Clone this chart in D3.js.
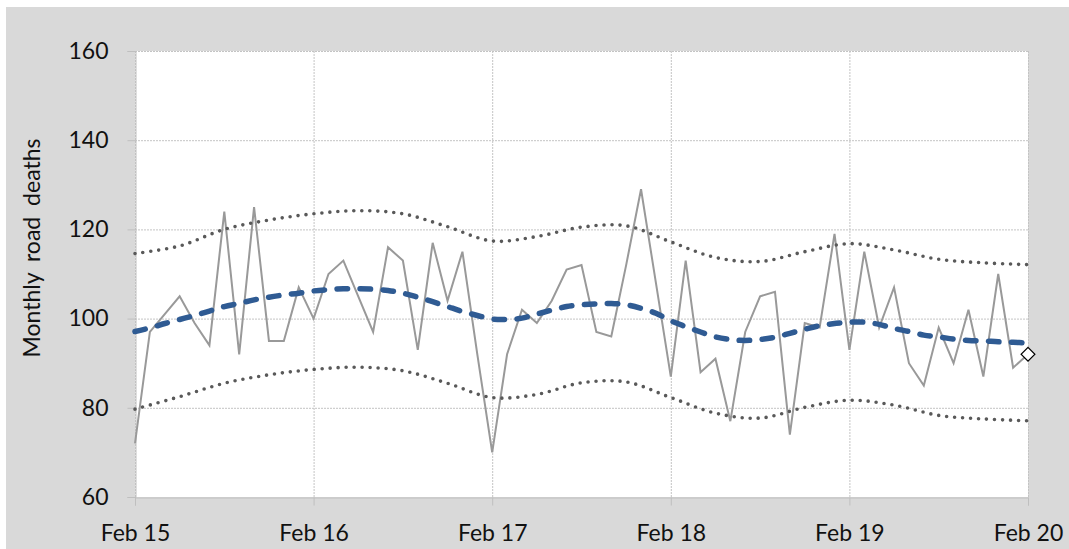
<!DOCTYPE html>
<html>
<head>
<meta charset="utf-8">
<script src="https://cdn.jsdelivr.net/npm/d3@7"></script>
<style>
  body { margin: 0; background: #fff; }
  svg { display: block; font-family: Lato, "Open Sans", sans-serif; }
</style>
</head>
<body>
<svg id="chart" width="1069" height="549"></svg>
<script>
// monthly road deaths, Feb 15 .. Feb 20 (index = months since Feb 15)
var deaths = [72, 97, 101, 105, 99, 94, 124, 92, 125, 95, 95, 107, 100, 110, 113, 105, 97, 116, 113, 93,
  117, 104, 115, 92, 70, 92, 102, 99, 104, 111, 112, 97, 96, 112, 129, 108, 87, 113, 88, 91,
  77, 97, 105, 106, 74, 99, 98, 119, 93, 115, 98, 107, 90, 85, 98, 90, 102, 87, 110, 89, 92]

// smoothed trend, one value per month
var trend = [97.1, 97.9, 98.9, 99.8, 100.7, 101.7, 102.7, 103.4, 104.2, 104.8, 105.3, 105.7, 106.2, 106.5, 106.7,
  106.7, 106.6, 106.3, 105.7, 104.8, 103.8, 102.7, 101.6, 100.7, 99.9, 99.8, 100.1, 101.0, 101.9, 102.7,
  103.1, 103.3, 103.4, 103.1, 102.3, 101.2, 99.5, 98.2, 97.0, 95.9, 95.3, 95.1, 95.3, 95.8, 96.7,
  97.6, 98.4, 98.9, 99.2, 99.2, 98.7, 97.8, 97.1, 96.3, 95.9, 95.4, 95.1, 95.0, 94.8, 94.7, 94.5]

// limits, read every 3 months
var bandMonths = [0, 3, 6, 9, 12, 15, 18, 21, 24, 27, 30, 33, 36, 39, 42, 45, 48, 51, 54, 57, 60]
var upper = [114.6, 116.3, 120.0, 122.1, 123.5, 124.2, 123.5, 120.6, 117.4, 118.4, 120.5, 120.8, 117.2,
  113.7, 112.8, 115.0, 116.8, 115.4, 113.3, 112.5, 112.1]
var lower = [79.7, 82.5, 85.5, 87.4, 88.6, 89.1, 88.3, 85.5, 82.3, 83.0, 85.6, 85.8, 82.3,
  78.8, 77.7, 80.1, 81.7, 80.6, 78.3, 77.5, 77.1]

var xTickMonths = [0, 12, 24, 36, 48, 60]
var xTickLabels = ["Feb 15", "Feb 16", "Feb 17", "Feb 18", "Feb 19", "Feb 20"]
var yTicks = [60, 80, 100, 120, 140, 160]

var svg = d3.select("#chart")
var plotL = 135, plotR = 1028, plotT = 51, plotB = 497

svg.append("rect")
  .attr("x", 6).attr("y", 7)
  .attr("width", 1063).attr("height", 542)
  .attr("fill", "#d9d9d9")

svg.append("rect")
  .attr("x", plotL).attr("y", plotT)
  .attr("width", plotR - plotL).attr("height", plotB - plotT)
  .attr("fill", "#fff")

var x = d3.scaleLinear().domain([0, 60]).range([plotL, plotR])
var y = d3.scaleLinear().domain([60, 160]).range([plotB, plotT])

// gridlines
var grid = svg.append("g")
  .attr("stroke", "#c4c4c4")
  .attr("stroke-width", 1)
  .attr("stroke-dasharray", "2,1")

grid.selectAll(".hgrid")
  .data(yTicks.slice(1))
  .enter().append("line")
  .attr("x1", plotL).attr("x2", plotR)
  .attr("y1", d => y(d) + 0.5).attr("y2", d => y(d) + 0.5)

grid.selectAll(".vgrid")
  .data(xTickMonths)
  .enter().append("line")
  .attr("x1", d => x(d) + 0.5).attr("x2", d => x(d) + 0.5)
  .attr("y1", plotT).attr("y2", plotB)

// axes
var xAxis = d3.axisBottom(x)
  .tickValues(xTickMonths)
  .tickFormat((d, i) => xTickLabels[i])
  .tickSize(8)
  .tickPadding(19)

var yAxis = d3.axisLeft(y)
  .tickValues(yTicks)
  .tickSize(8)
  .tickPadding(19)

var gx = svg.append("g")
  .attr("transform", `translate(0,${plotB + 0.5})`)
  .call(xAxis)

var gy = svg.append("g")
  .attr("transform", `translate(${plotL + 0.5},0)`)
  .call(yAxis)

;[gx, gy].forEach(function(g) {
  g.select(".domain").attr("stroke", "#bfbfbf")
  g.selectAll(".tick line").attr("stroke", "#bfbfbf")
  g.selectAll(".tick text")
    .attr("font-size", 23)
    .attr("fill", "#111")
    .attr("font-family", "Lato, sans-serif")
})

svg.append("text")
  .attr("transform", "translate(40,248) rotate(-90)")
  .attr("text-anchor", "middle")
  .attr("font-size", 23)
  .attr("word-spacing", 5)
  .attr("fill", "#111")
  .text("Monthly road deaths")

// series
var monthLine = d3.line()
  .x((d, i) => x(i))
  .y(d => y(d))

svg.append("path")
  .datum(deaths)
  .attr("d", monthLine)
  .attr("fill", "none")
  .attr("stroke", "#999")
  .attr("stroke-width", 2)

var bandLine = d3.line()
  .x((d, i) => x(bandMonths[i]))
  .y(d => y(d))
  .curve(d3.curveCatmullRom)

;[upper, lower].forEach(function(series) {
  svg.append("path")
    .datum(series)
    .attr("d", bandLine)
    .attr("fill", "none")
    .attr("stroke", "#595959")
    .attr("stroke-width", 3.6)
    .attr("stroke-linecap", "round")
    .attr("stroke-dasharray", "0,8")
})

var trendLine = d3.line()
  .x((d, i) => x(i))
  .y(d => y(d))
  .curve(d3.curveCatmullRom)

svg.append("path")
  .datum(trend)
  .attr("d", trendLine)
  .attr("fill", "none")
  .attr("stroke", "#2f5b93")
  .attr("stroke-width", 5.5)
  .attr("stroke-linecap", "round")
  .attr("stroke-dasharray", "10.5,12.5")

// latest month marker
var last = deaths.length - 1
svg.append("path")
  .attr("d", d3.symbol().type(d3.symbolSquare).size(95)())
  .attr("transform", `translate(${x(last)},${y(deaths[last])}) rotate(45)`)
  .attr("fill", "#fff")
  .attr("stroke", "#000")
  .attr("stroke-width", 1.2)
</script>
</body>
</html>
